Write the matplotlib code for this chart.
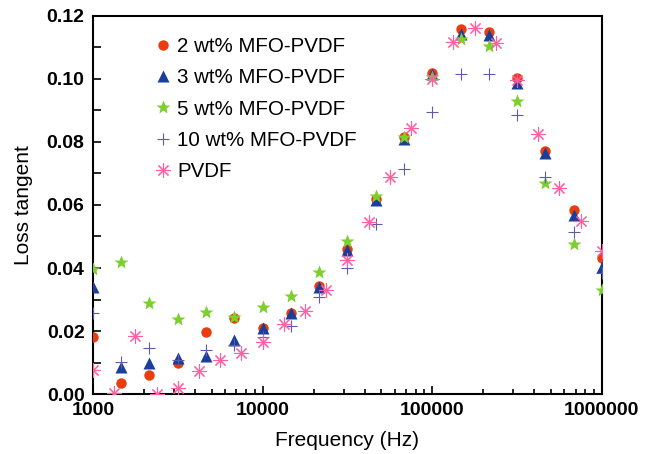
import numpy as np
import matplotlib
matplotlib.use("Agg")
import matplotlib.pyplot as plt
from matplotlib.ticker import FixedLocator, LogLocator, NullFormatter
from matplotlib.legend_handler import HandlerTuple

plt.rcParams['font.family'] = ['Liberation Sans', 'DejaVu Sans']

# frequencies (Hz): samples use 6 points/decade, PVDF uses 8 points/decade
freq = [1000, 1468, 2154, 3162, 4642, 6813, 10000, 14678, 21544, 31623,
        46416, 68129, 100000, 146780, 215443, 316228, 464159, 681292, 1000000]
freq_pvdf = [1000, 1334, 1778, 2371, 3162, 4217, 5623, 7499, 10000, 13335,
             17783, 23714, 31623, 42170, 56234, 74989, 100000, 133352, 177828,
             237137, 316228, 421697, 562341, 749894, 1000000]

tan_2wt = [0.0181, 0.0035, 0.0060, 0.0100, 0.0197, 0.0241, 0.0210, 0.0257, 0.0343, 0.0460,
           0.0618, 0.0815, 0.1020, 0.1159, 0.1150, 0.1003, 0.0770, 0.0583, 0.0431]
tan_3wt = [0.0339, 0.0086, 0.0098, 0.0114, 0.0120, 0.0171, 0.0209, 0.0257, 0.0340, 0.0456,
           0.0615, 0.0810, 0.1017, 0.1144, 0.1140, 0.0987, 0.0765, 0.0567, 0.0403]
tan_5wt = [0.0396, 0.0419, 0.0289, 0.0238, 0.0260, 0.0245, 0.0277, 0.0311, 0.0386, 0.0485,
           0.0630, 0.0815, 0.1005, 0.1126, 0.1103, 0.0930, 0.0669, 0.0475, 0.0330]
tan_10wt = [0.0257, 0.0101, 0.0146, 0.0108, 0.0140, 0.0155, 0.0180, 0.0215, 0.0307, 0.0399,
            0.0539, 0.0713, 0.0894, 0.1017, 0.1017, 0.0884, 0.0688, 0.0514, 0.0383]
tan_pvdf = [0.0076, 0.0003, 0.0184, 0.0000, 0.0019, 0.0073, 0.0108, 0.0130, 0.0165, 0.0222,
            0.0263, 0.0330, 0.0425, 0.0546, 0.0689, 0.0845, 0.1000, 0.1117, 0.1160, 0.1114,
            0.0995, 0.0824, 0.0653, 0.0549, 0.0454]

labels = ["2 wt% MFO-PVDF", "3 wt% MFO-PVDF", "5 wt% MFO-PVDF", "10 wt% MFO-PVDF", "PVDF"]

fig = plt.figure(figsize=(6.5, 4.54), dpi=100)
ax = fig.add_axes([0.143, 0.132, 0.783, 0.833])

h1, = ax.plot(freq, tan_2wt, 'o', ls='none', color='#ea3c0c', ms=7.5, mec='none', zorder=3)
h2, = ax.plot(freq, tan_3wt, '^', ls='none', color='#1a3e9c', ms=8.5, mec='none', zorder=4)
h3, = ax.plot(freq, tan_5wt, '*', ls='none', color='#7ccf2c', ms=10, mec='none', zorder=5)
h4, = ax.plot(freq, tan_10wt, '+', ls='none', color='#5c5cae', ms=9, mew=0.8, zorder=6)
h5a, = ax.plot(freq_pvdf, tan_pvdf, marker=(4, 2, 0), ls='none', color='#ff5fa0', ms=10, mew=0.8, zorder=7)
h5b, = ax.plot(freq_pvdf, tan_pvdf, marker=(4, 2, 45), ls='none', color='#ff5fa0', ms=10, mew=0.8, zorder=7)

ax.set_xscale('log')
ax.set_xlim(1000, 1000000)
ax.set_ylim(0, 0.12)
ax.set_xticks([1000, 10000, 100000, 1000000])
ax.set_xticklabels(["1000", "10000", "100000", "1000000"])
ax.xaxis.set_minor_locator(LogLocator(base=10, subs=np.arange(2, 10)))
ax.xaxis.set_minor_formatter(NullFormatter())
ax.set_yticks(np.arange(0, 0.121, 0.02))
ax.set_yticklabels(["0.00", "0.02", "0.04", "0.06", "0.08", "0.10", "0.12"])
ax.yaxis.set_minor_locator(FixedLocator(np.arange(0.01, 0.12, 0.02)))

ax.tick_params(which='both', direction='in', top=False, right=False, width=1.2)
ax.tick_params(which='major', length=6, labelsize=14, pad=6)
ax.tick_params(axis='y', which='minor', length=6)
ax.tick_params(axis='x', which='minor', length=3.5)
for t in ax.get_xticklabels() + ax.get_yticklabels():
    t.set_fontweight('bold')
for s in ax.spines.values():
    s.set_linewidth(1.5)

ax.set_xlabel("Frequency (Hz)", fontsize=15, labelpad=8)
ax.set_ylabel("Loss tangent", fontsize=15, labelpad=10)

ax.legend([h1, h2, h3, h4, (h5a, h5b)], labels,
          handler_map={tuple: HandlerTuple(ndivide=1, pad=0)},
          loc='upper left', bbox_to_anchor=(0.105, 0.966), frameon=False, fontsize=14.8,
          handlelength=0.8, handletextpad=0.3, labelspacing=0.6, borderaxespad=0)

fig.savefig("out.png", dpi=100)
